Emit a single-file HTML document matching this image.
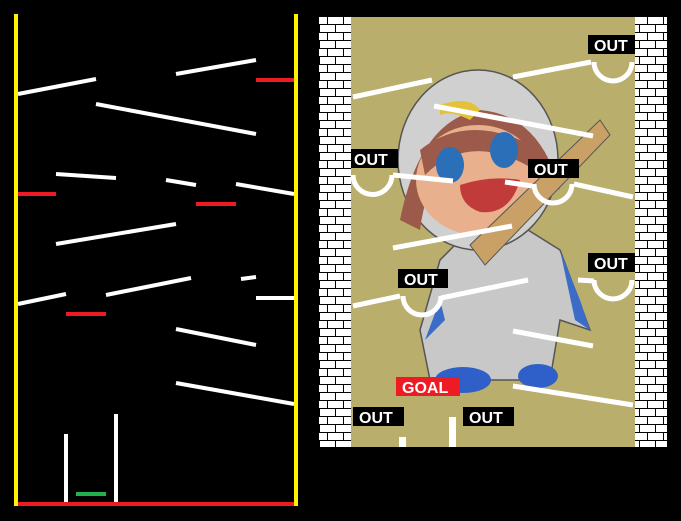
<!DOCTYPE html>
<html><head><style>
html,body{margin:0;padding:0;background:#000;width:681px;height:521px;overflow:hidden}
svg{display:block}
text{font-family:"Liberation Sans",sans-serif;font-weight:bold;fill:#fff}
</style></head><body>
<svg width="681" height="521" viewBox="0 0 681 521" xmlns="http://www.w3.org/2000/svg">
<defs>
<pattern id="brick" x="319" y="17" width="32" height="16" patternUnits="userSpaceOnUse">
<rect width="32" height="16" fill="#fff"/>
<path d="M0 7.5H32M0 15.5H32M8.5 0V8M24.5 0V8M0.5 8V16M16.5 8V16" stroke="#000" stroke-width="1"/>
</pattern>
</defs>
<rect width="681" height="521" fill="#000"/>
<!-- LEFT PANEL -->
<g stroke="#fff" stroke-width="4" stroke-linecap="butt">
<line x1="18" y1="94" x2="96" y2="79"/>
<line x1="176" y1="74" x2="256" y2="60"/>
<line x1="96" y1="104" x2="256" y2="134"/>
<line x1="56" y1="174" x2="116" y2="178"/>
<line x1="166" y1="180" x2="196" y2="185"/>
<line x1="236" y1="184" x2="294" y2="194"/>
<line x1="56" y1="244" x2="176" y2="224"/>
<line x1="18" y1="304" x2="66" y2="294"/>
<line x1="106" y1="295" x2="191" y2="278"/>
<line x1="241" y1="279" x2="256" y2="277"/>
<line x1="256" y1="298" x2="294" y2="298"/>
<line x1="176" y1="329" x2="256" y2="345"/>
<line x1="176" y1="383" x2="294" y2="404"/>
</g>
<rect x="256" y="78" width="38" height="4" fill="#ed1c24"/>
<rect x="18" y="192" width="38" height="4" fill="#ed1c24"/>
<rect x="196" y="202" width="40" height="4" fill="#ed1c24"/>
<rect x="66" y="312" width="40" height="4" fill="#ed1c24"/>
<rect x="64" y="434" width="4" height="68" fill="#fff"/>
<rect x="114" y="414" width="4" height="88" fill="#fff"/>
<rect x="76" y="492" width="30" height="4" fill="#22b14c"/>
<rect x="18" y="502" width="276" height="4" fill="#ed1c24"/>
<rect x="14" y="14" width="4" height="492" fill="#fff200"/>
<rect x="294" y="14" width="4" height="492" fill="#fff200"/>
<!-- RIGHT PANEL -->
<rect x="319" y="17" width="32" height="430" fill="url(#brick)"/>
<rect x="635" y="17" width="32" height="430" fill="url(#brick)"/>
<rect x="351" y="17" width="284" height="430" fill="#b9ae6b"/>
<!-- character approximation -->
<g>
<path d="M430 380 L420 330 L440 260 L470 230 L520 225 L560 250 L590 330 L560 320 L550 380 Z" fill="#c8c8c8" stroke="#555" stroke-width="1.5"/>
<path d="M560 250 L580 300 L590 330 L575 320 Z" fill="#3a6cc8"/>
<path d="M440 300 L425 340 L445 320 Z" fill="#3a6cc8"/>
<ellipse cx="478" cy="160" rx="80" ry="90" fill="#d0d0d0" stroke="#555" stroke-width="1.5"/>
<path d="M400 220 Q420 120 480 110 Q540 115 560 190 Q530 150 490 140 Q430 150 420 230 Z" fill="#9c5a4a"/>
<ellipse cx="478" cy="180" rx="62" ry="55" fill="#e8b08c"/>
<path d="M420 150 Q470 110 540 150 L535 170 Q470 130 425 175 Z" fill="#9c5a4a"/>
<ellipse cx="450" cy="165" rx="14" ry="18" fill="#2a6fb8"/>
<ellipse cx="504" cy="150" rx="14" ry="18" fill="#2a6fb8"/>
<path d="M460 185 Q490 175 520 180 Q510 215 480 212 Q460 205 460 185Z" fill="#c23b3b"/>
<path d="M470 245 L600 120 L610 135 L485 265 Z" fill="#c9a066" stroke="#555"/>
<ellipse cx="463" cy="380" rx="28" ry="13" fill="#2f5fc8"/>
<ellipse cx="538" cy="376" rx="20" ry="12" fill="#2f5fc8"/>
<path d="M440 105 Q470 95 480 110 L470 120 Q450 110 440 115 Z" fill="#e3c23a"/>
</g>
<g stroke="#fff" stroke-width="5" fill="none">
<line x1="353" y1="97" x2="432" y2="80"/>
<line x1="513" y1="77" x2="591" y2="62"/>
<path d="M594 62 A18 18 0 0 0 632 62"/>
<line x1="434" y1="106" x2="593" y2="136"/>
<path d="M353 175 A19 19 0 0 0 392 175"/>
<line x1="393" y1="175" x2="453" y2="181"/>
<line x1="505" y1="182" x2="532" y2="186"/>
<path d="M534 184 A19 19 0 0 0 572 184"/>
<line x1="574" y1="184" x2="633" y2="197"/>
<line x1="393" y1="248" x2="512" y2="226"/>
<path d="M594 280 A18 18 0 0 0 632 280"/>
<line x1="578" y1="280" x2="594" y2="281"/>
<line x1="353" y1="306" x2="400" y2="296"/>
<path d="M403 296 A19 19 0 0 0 441 296"/>
<line x1="441" y1="298" x2="528" y2="280"/>
<line x1="513" y1="331" x2="593" y2="346"/>
<line x1="513" y1="386" x2="633" y2="405"/>
</g>
<rect x="399" y="437" width="7" height="10" fill="#fff"/>
<rect x="449" y="417" width="7" height="30" fill="#fff"/>
<g font-size="16">
<rect x="588" y="35" width="47" height="19" fill="#000"/><text x="594" y="51">OUT</text>
<rect x="351" y="149" width="47" height="19" fill="#000"/><text x="354" y="165">OUT</text>
<rect x="528" y="159" width="51" height="19" fill="#000"/><text x="534" y="175">OUT</text>
<rect x="588" y="253" width="47" height="19" fill="#000"/><text x="594" y="269">OUT</text>
<rect x="398" y="269" width="50" height="19" fill="#000"/><text x="404" y="285">OUT</text>
<rect x="396" y="377" width="64" height="19" fill="#ed1c24"/><text x="402" y="393">GOAL</text>
<rect x="353" y="407" width="51" height="19" fill="#000"/><text x="359" y="423">OUT</text>
<rect x="463" y="407" width="51" height="19" fill="#000"/><text x="469" y="423">OUT</text>
</g>
</svg>
</body></html>
